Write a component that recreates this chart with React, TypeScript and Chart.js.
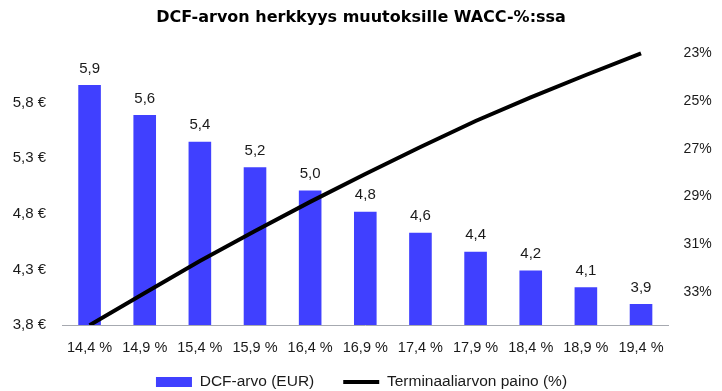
import React, { useEffect, useRef } from 'react';
import { Chart, registerables } from 'chart.js';

Chart.register(...registerables);

const TITLE = 'DCF-arvon herkkyys muutoksille WACC-%:ssa';
const BAR_LABEL = 'DCF-arvo (EUR)';
const LINE_LABEL = 'Terminaaliarvon paino (%)';

const categories = ['14,4 %', '14,9 %', '15,4 %', '15,9 %', '16,4 %', '16,9 %', '17,4 %', '17,9 %', '18,4 %', '18,9 %', '19,4 %'];
const dcfValues = [5.91, 5.64, 5.4, 5.17, 4.96, 4.77, 4.58, 4.41, 4.24, 4.09, 3.94];
const terminalWeight = [34.4, 33.05, 31.71, 30.45, 29.23, 28.06, 26.93, 25.84, 24.85, 23.91, 23.0];
const leftTicks = [3.75, 4.25, 4.75, 5.25, 5.75];
const rightTicks = [23, 25, 27, 29, 31, 33];

const BLUE = '#4040ff';
const TEXT = '#1a1a1a';
const FAMILY = '"Liberation Sans", Arial, sans-serif';

const fmt = (v: number) => v.toFixed(1).replace('.', ',');

const barLabels = {
  id: 'barLabels',
  afterDatasetsDraw(chart: any) {
    const meta = chart.getDatasetMeta(0);
    const ctx = chart.ctx;
    ctx.save();
    ctx.font = '15px ' + FAMILY;
    ctx.fillStyle = TEXT;
    ctx.textAlign = 'center';
    ctx.textBaseline = 'middle';
    meta.data.forEach((el: any, i: number) => {
      ctx.fillText(fmt(dcfValues[i]), el.x, el.y - 16.5);
    });
    ctx.restore();
  },
};

const legendShift = {
  id: 'legendShift',
  beforeLayout(chart: any) {
    const lg = chart.legend;
    if (lg && !lg._patchedFit) {
      const orig = lg.fit.bind(lg);
      lg.fit = function () {
        orig();
        this.height = 35;
      };
      lg._patchedFit = true;
    }
  },
  afterLayout(chart: any) {
    const lg = chart.legend;
    if (!lg) return;
    lg.top = 345.25;
    lg.bottom = chart.height;
    lg.height = lg.bottom - lg.top;
    lg.left += 0.5;
    lg.right += 0.5;
  },
};

export default function App() {
  const ref = useRef<HTMLCanvasElement | null>(null);

  useEffect(() => {
    if (!ref.current) return;
    const chart = new Chart(ref.current, {
      type: 'bar',
      data: {
        labels: categories,
        datasets: [
          {
            type: 'bar',
            label: BAR_LABEL,
            data: dcfValues,
            backgroundColor: BLUE,
            borderWidth: 0,
            yAxisID: 'y',
            categoryPercentage: 1,
            barPercentage: 0.41,
            order: 1,
            pointStyle: 'rect',
          } as any,
          {
            type: 'line',
            label: LINE_LABEL,
            data: terminalWeight,
            borderColor: '#000',
            backgroundColor: '#000',
            borderWidth: 4,
            pointRadius: 0,
            pointHoverRadius: 0,
            tension: 0,
            yAxisID: 'y1',
            order: 0,
            pointStyle: 'line',
          } as any,
        ],
      },
      options: {
        responsive: false,
        animation: false,
        devicePixelRatio: 1,
        layout: { padding: 0 },
        font: { family: FAMILY },
        plugins: {
          title: {
            display: true,
            text: TITLE,
            color: '#000',
            font: { family: '"DejaVu Sans", sans-serif', size: 16, weight: 'bold' },
            padding: { top: 8, bottom: 17.8 },
          },
          legend: {
            position: 'bottom',
            labels: {
              usePointStyle: true,
              pointStyleWidth: 36,
              boxHeight: 10,
              padding: 29,
              color: TEXT,
              font: { family: FAMILY, size: 15.5 },
              sort: (a: any, b: any) => a.datasetIndex - b.datasetIndex,
              generateLabels: (chart: any) => {
                const items = (Chart.defaults.plugins.legend.labels as any).generateLabels(chart);
                items.forEach((it: any) => {
                  if (it.datasetIndex === 1) {
                    it.pointStyle = 'line';
                    it.strokeStyle = '#000';
                    it.fillStyle = '#000';
                    it.lineWidth = 4;
                  } else {
                    it.pointStyle = 'rect';
                    it.fillStyle = BLUE;
                    it.strokeStyle = BLUE;
                    it.lineWidth = 0;
                  }
                });
                return items;
              },
            },
          },
          tooltip: { enabled: false },
        },
        scales: {
          x: {
            grid: { display: false, drawTicks: false },
            border: { display: true, color: '#a6a9b0', width: 1 },
            ticks: {
              color: TEXT,
              font: { family: FAMILY, size: 14.5 },
              padding: 14,
              maxRotation: 0,
              autoSkip: false,
            },
            afterFit(s: any) {
              s.height = 31;
            },
          },
          y: {
            position: 'left',
            min: 3.75,
            max: 6.27,
            grid: { display: false, drawTicks: false },
            border: { display: false },
            ticks: {
              color: TEXT,
              font: { family: FAMILY, size: 15 },
              padding: 16,
              callback: (v: any) => fmt(Number(v)) + ' €',
            },
            afterBuildTicks(s: any) {
              s.ticks = leftTicks.map((v) => ({ value: v }));
            },
            afterFit(s: any) {
              s.width = 62;
            },
          },
          y1: {
            position: 'right',
            reverse: true,
            min: 22.652,
            max: 34.392,
            grid: { display: false, drawTicks: false },
            border: { display: false },
            ticks: {
              color: TEXT,
              font: { family: FAMILY, size: 14 },
              padding: 15,
              callback: (v: any) => String(v) + '%',
            },
            afterBuildTicks(s: any) {
              s.ticks = rightTicks.map((v) => ({ value: v }));
            },
            afterFit(s: any) {
              s.width = 53.4;
            },
          },
        },
      } as any,
      plugins: [barLabels, legendShift],
    });
    return () => chart.destroy();
  }, []);

  return (
    <div style={{ position: 'fixed', left: 0, top: 0, width: 722, height: 391, background: '#fff' }}>
      <canvas ref={ref} width={722} height={391} style={{ width: 722, height: 391, display: 'block' }} />
    </div>
  );
}
